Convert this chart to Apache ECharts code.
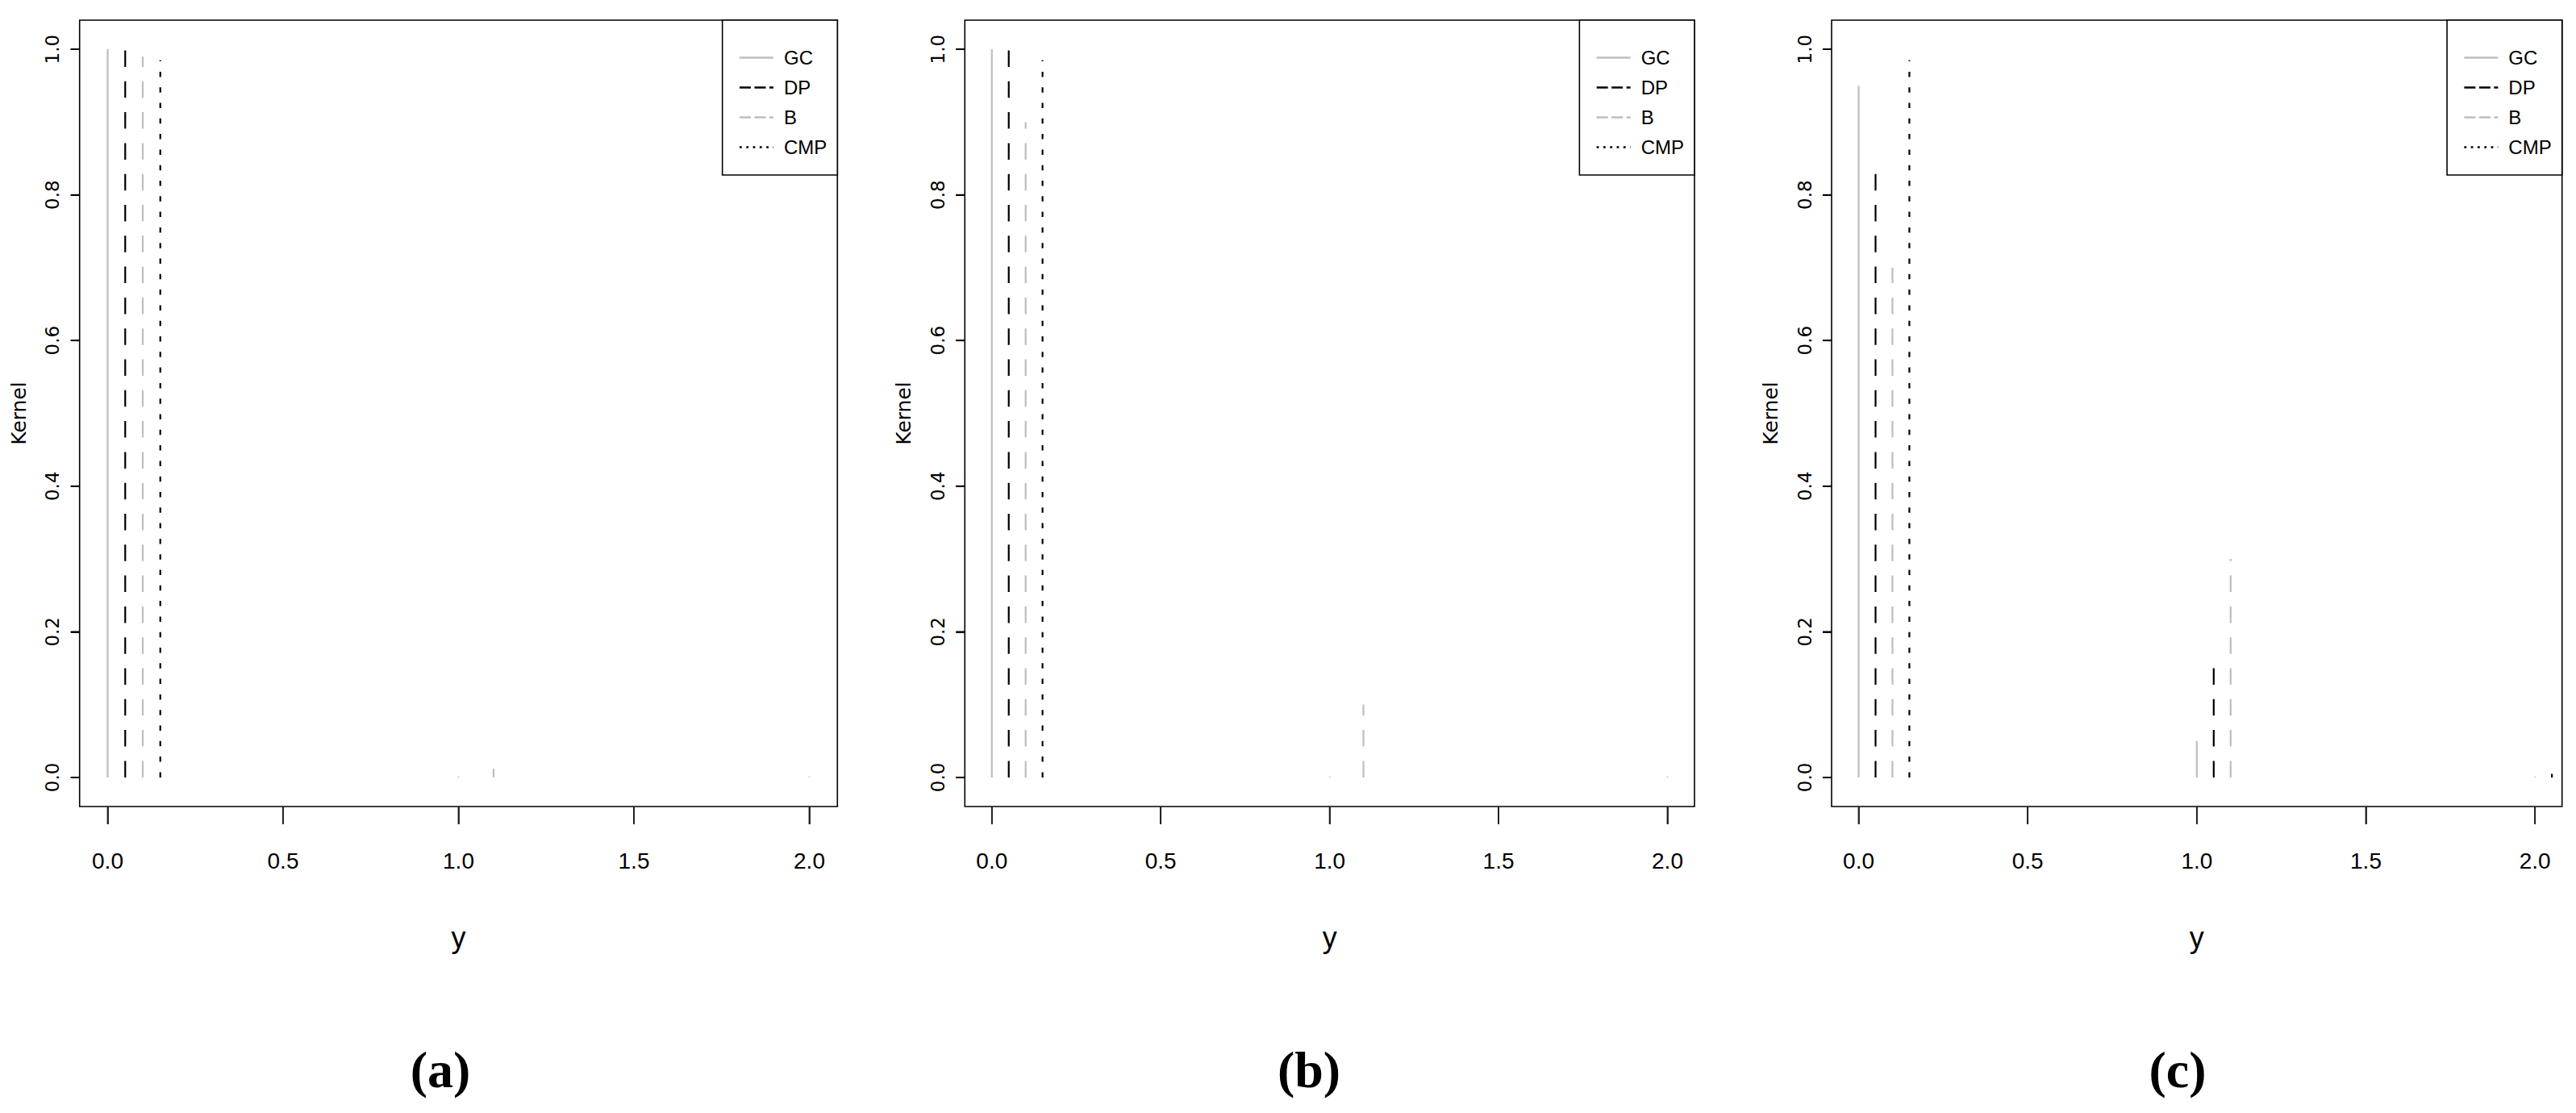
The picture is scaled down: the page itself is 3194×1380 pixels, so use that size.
<!DOCTYPE html>
<html>
<head>
<meta charset="utf-8">
<script src="https://cdn.jsdelivr.net/npm/echarts@6/dist/echarts.min.js"></script>
<style>
html,body{margin:0;padding:0;background:#fff;}
#chart{width:3194px;height:1380px;}
</style>
</head>
<body>
<div id="chart"></div>
<script>
// ---- data ----
const seriesNames = ['GC', 'DP', 'B', 'CMP'];
const xBase = [0, 1, 2];                 // support points y = 0, 1, 2
const xOffsets = [0, 0.05, 0.10, 0.15];  // horizontal offset of each kernel's spike
const captions = ['(a)', '(b)', '(c)'];
const xTicks = [0, 0.5, 1.0, 1.5, 2.0];
const yTicks = [0, 0.2, 0.4, 0.6, 0.8, 1.0];

// panel (a)
const aGC  = [1.00, 0.001, 0.001];
const aDP  = [1.00, 0.000, 0.000];
const aB   = [0.99, 0.012, 0.000];
const aCMP = [0.985, 0.000, 0.000];
// panel (b)
const bGC  = [1.00, 0.001, 0.001];
const bDP  = [1.00, 0.000, 0.000];
const bB   = [0.90, 0.100, 0.000];
const bCMP = [0.985, 0.000, 0.000];
// panel (c)
const cGC  = [0.95, 0.050, 0.001];
const cDP  = [0.83, 0.150, 0.005];
const cB   = [0.70, 0.300, 0.000];
const cCMP = [0.985, 0.000, 0.000];

const panels = [
  [aGC, aDP, aB, aCMP],
  [bGC, bDP, bB, bCMP],
  [cGC, cDP, cB, cCMP]
];

// ---- styling / layout ----
const W = 3194;
const grids = [
  {left: 98.7,  top: 25, width: 939.6, height: 975},
  {left: 1196.3, top: 25, width: 904.7, height: 975},
  {left: 2271,  top: 25, width: 905.7, height: 975}
];
const captionX = [546, 1623, 2700];
const GRAY = '#BEBEBE';
const styles = [
  {color: GRAY,   type: 'solid',    legendType: 'solid'},
  {color: '#000', type: [20.5, 17.8], legendType: [14, 4.5]},
  {color: GRAY,   type: [20.5, 17.8], legendType: [14, 4.5]},
  {color: '#000', type: [6.5, 12.8],  legendType: [2.8, 5.5]}
];
const NARROW = "'Liberation Sans Narrow', 'Liberation Sans', sans-serif";
const WIDE = "'DejaVu Sans', sans-serif";
const X_TICK_LEN = 22, Y_TICK_LEN = 11;

function spikes(vals, off) {
  const d = [];
  xBase.forEach((b, i) => {
    const x = +(b + off).toFixed(2);
    d.push([x, 0], [x, vals[i]], [x, '-']);
  });
  return d;
}

const option = {
  animation: false,
  backgroundColor: '#fff',
  grid: grids.map(g => Object.assign({show: true, borderColor: '#000', borderWidth: 1.6, backgroundColor: 'transparent'}, g)),
  xAxis: grids.map((g, i) => ({
    type: 'value', gridIndex: i, min: -0.08, max: 2.08,
    name: 'y', nameLocation: 'middle', nameGap: 144,
    nameTextStyle: {fontFamily: NARROW, fontSize: 36, color: '#000'},
    axisLine: {show: false, onZero: false},
    splitLine: {show: false},
    axisTick: {show: true, length: X_TICK_LEN, lineStyle: {color: '#222', width: 1.8}, customValues: xTicks},
    axisLabel: {show: true, margin: 53, fontFamily: NARROW, fontSize: 28, color: '#000',
      customValues: xTicks, formatter: v => Number(v).toFixed(1)}
  })),
  yAxis: grids.map((g, i) => ({
    type: 'value', gridIndex: i, min: -0.04, max: 1.04,
    name: 'Kernel', nameLocation: 'middle', nameGap: 63,
    nameTextStyle: {fontFamily: WIDE, fontSize: 25, color: '#000'},
    axisLine: {show: false, onZero: false},
    splitLine: {show: false},
    axisTick: {show: true, length: Y_TICK_LEN, lineStyle: {color: '#000', width: 1.8}, customValues: yTicks},
    axisLabel: {show: true, rotate: 90, margin: 22, fontFamily: WIDE, fontSize: 23, color: '#000',
      customValues: yTicks, formatter: v => Number(v).toFixed(1)}
  })),
  legend: grids.map((g, i) => ({
    orient: 'vertical',
    right: W - (g.left + g.width),
    top: g.top,
    backgroundColor: '#fff',
    borderColor: '#000',
    borderWidth: 1.6,
    borderRadius: 0,
    padding: [28, 13, 16, 20],
    itemGap: 0,
    itemWidth: 42,
    itemHeight: 14,
    selectedMode: false,
    textStyle: {fontFamily: NARROW, fontSize: 24, color: '#000', lineHeight: 37, width: 53, padding: [0, 0, 0, 8]},
    data: seriesNames.map((n, k) => ({
      name: n,
      itemStyle: {opacity: 0, color: 'transparent', borderWidth: 0},
      lineStyle: {color: styles[k].color, width: 2.6, type: styles[k].legendType, cap: 'butt', opacity: 1}
    }))
  })),
  title: captions.map((c, i) => ({
    text: c, left: captionX[i], top: 1294, textAlign: 'center', padding: 0,
    textStyle: {fontFamily: "'Liberation Serif', serif", fontWeight: 'bold', fontSize: 64, color: '#000'}
  })),
  series: []
};

panels.forEach((vals, p) => {
  vals.forEach((v, k) => {
    option.series.push({
      type: 'line',
      name: seriesNames[k],
      xAxisIndex: p, yAxisIndex: p,
      data: spikes(v, xOffsets[k]),
      symbol: 'none',
      connectNulls: false,
      clip: true,
      lineStyle: {color: styles[k].color, width: 2.2, type: styles[k].type, cap: 'butt'},
      itemStyle: {color: styles[k].color}
    });
  });
});

const chart = echarts.init(document.getElementById('chart'), null, {renderer: 'svg'});
chart.setOption(option);

// outward tick marks on the box edges (filled slivers), positioned through each panel's own scales
const tickGraphics = [];
grids.forEach((g, p) => {
  const bottom = g.top + g.height;
  xTicks.forEach(t => {
    const px = chart.convertToPixel({gridIndex: p}, [t, 0]);
    if (!px) return;
    tickGraphics.push({type: 'rect', silent: true, z: 100,
      shape: {x: px[0] - 0.9, y: bottom, width: 1.8, height: X_TICK_LEN},
      style: {fill: '#222'}});
  });
  yTicks.forEach(t => {
    const px = chart.convertToPixel({gridIndex: p}, [0, t]);
    if (!px) return;
    tickGraphics.push({type: 'rect', silent: true, z: 100,
      shape: {x: g.left - Y_TICK_LEN, y: px[1] - 0.9, width: Y_TICK_LEN, height: 1.8},
      style: {fill: '#000'}});
  });
});
chart.setOption({graphic: tickGraphics});
</script>
</body>
</html>
